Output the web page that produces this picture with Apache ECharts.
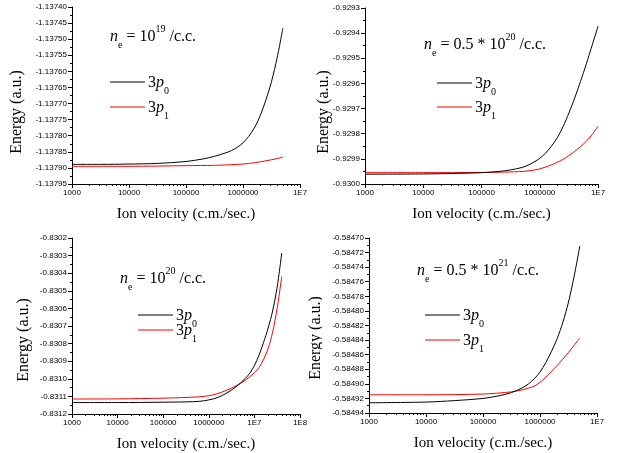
<!DOCTYPE html>
<html>
<head>
<meta charset="utf-8">
<script src="https://cdn.jsdelivr.net/npm/echarts@6/dist/echarts.min.js"></script>
<style>
  html, body { margin: 0; padding: 0; background: #fff; }
  #chart { width: 634px; height: 453px; }
</style>
</head>
<body>
<div id="chart"></div>
<script>
// Energy of the 3p0 / 3p1 levels against ion velocity, four electron densities.

// n_e = 1e19 /c.c.
const p1Vel0 = [1e3, 3.16e3, 1e4, 3.16e4, 1e5, 2e5, 3.16e5, 5.01e5, 6.31e5, 7.94e5, 1e6, 1.26e6, 1.58e6, 2e6, 2.51e6, 3.16e6, 3.98e6, 5e6];
const p1En0  = [-1.137889, -1.137889, -1.137888, -1.137886, -1.137880, -1.137872, -1.137864, -1.137853, -1.137846, -1.137836, -1.137822, -1.137802, -1.137776, -1.137738, -1.137690, -1.137632, -1.137557, -1.137466];
const p1Vel1 = [1e3, 1e4, 1e5, 3.16e5, 6.31e5, 1e6, 1.58e6, 2.51e6, 3.98e6, 5e6];
const p1En1  = [-1.137895, -1.137895, -1.137893, -1.137892, -1.137890, -1.137888, -1.137884, -1.137878, -1.137871, -1.137866];

// n_e = 0.5 * 1e20 /c.c.
const p2Vel0 = [1e3, 1e4, 3.16e4, 1e5, 2e5, 3.16e5, 5.01e5, 6.31e5, 7.94e5, 1e6, 1.26e6, 1.58e6, 2e6, 2.51e6, 3.16e6, 3.98e6, 5.01e6, 6.31e6, 7.94e6, 1e7];
const p2En0  = [-0.929961, -0.929960, -0.929958, -0.929955, -0.929950, -0.929944, -0.929934, -0.929925, -0.929913, -0.929898, -0.929877, -0.929850, -0.929816, -0.929772, -0.929718, -0.929658, -0.929592, -0.929522, -0.929448, -0.929373];
const p2Vel1 = [1e3, 1e4, 1e5, 3.16e5, 6.31e5, 1e6, 1.58e6, 2.51e6, 3.98e6, 6.31e6, 7.94e6, 1e7];
const p2En1  = [-0.929955, -0.929955, -0.929954, -0.929952, -0.929948, -0.929940, -0.929924, -0.929902, -0.929870, -0.929830, -0.929803, -0.929770];

// n_e = 1e20 /c.c.
const p3Vel0 = [1e3, 1e4, 1e5, 3.16e5, 6.31e5, 1e6, 1.58e6, 2.51e6, 3.98e6, 6.31e6, 7.94e6, 1e7, 1.26e7, 1.58e7, 2e7, 2.51e7, 3.16e7, 3.98e7];
const p3En0  = [-0.831135, -0.831135, -0.831133, -0.831131, -0.831128, -0.831120, -0.831106, -0.831080, -0.831045, -0.830998, -0.830968, -0.830925, -0.830866, -0.830795, -0.830712, -0.830615, -0.830478, -0.830285];
const p3Vel1 = [1e3, 1e4, 1e5, 3.16e5, 6.31e5, 1e6, 1.58e6, 2.51e6, 3.98e6, 6.31e6, 1e7, 1.26e7, 1.58e7, 2e7, 2.51e7, 3.16e7, 3.98e7];
const p3En1  = [-0.831115, -0.831114, -0.831110, -0.831106, -0.831102, -0.831096, -0.831084, -0.831064, -0.831040, -0.831008, -0.830966, -0.830936, -0.830892, -0.830828, -0.830735, -0.830598, -0.830418];

// n_e = 0.5 * 1e21 /c.c.
const p4Vel0 = [1e3, 1e4, 3.16e4, 1e5, 2e5, 3.16e5, 5.01e5, 6.31e5, 7.94e5, 1e6, 1.26e6, 1.58e6, 2e6, 2.51e6, 3.16e6, 3.98e6, 5e6];
const p4En0  = [-0.584926, -0.584925, -0.584923, -0.584920, -0.584916, -0.584912, -0.584905, -0.584900, -0.584893, -0.584884, -0.584871, -0.584856, -0.584838, -0.584816, -0.584788, -0.584752, -0.584711];
const p4Vel1 = [1e3, 1e4, 1e5, 3.16e5, 5.01e5, 7.94e5, 1e6, 1.26e6, 1.58e6, 2e6, 2.51e6, 3.16e6, 3.98e6, 5e6];
const p4En1  = [-0.584915, -0.584915, -0.584914, -0.584911, -0.584908, -0.584903, -0.584898, -0.584891, -0.584883, -0.584875, -0.584866, -0.584857, -0.584847, -0.584837];

// Tick labels
const xTicksTo1E7 = [1e3, 1e4, 1e5, 1e6, 1e7];
const xTicksTo1E8 = [1e3, 1e4, 1e5, 1e6, 1e7, 1e8];
const densityTexts = [
  { pre: '',        exp: '19' },
  { pre: '0.5 * ',  exp: '20' },
  { pre: '',        exp: '20' },
  { pre: '0.5 * ',  exp: '21' }
];
const levelNames = ['0', '1'];
const xTitle = 'Ion velocity (c.m./sec.)';
const yTitle = 'Energy (a.u.)';

const SANS = '"Liberation Sans", Arial, sans-serif';
const SERIF = '"Liberation Serif", "Times New Roman", serif';
const BLACK = '#000000';
const RED = '#ff0000';

const panels = [
  { grid: { left: 72, top: 7, width: 228, height: 177 }, xTicks: xTicksTo1E7,
    yMin: -1.13795, yMax: -1.13740, yStep: 0.00005, digits: 5,
    lines: [[p1Vel0, p1En0], [p1Vel1, p1En1]],
    note: { x: 110, y: 37 }, key: { x: 110, y0: 82, y1: 107 }, yTitle: { x: 17, y: 112 } },
  { grid: { left: 365, top: 8, width: 233, height: 176 }, xTicks: xTicksTo1E7,
    yMin: -0.9300, yMax: -0.9293, yStep: 0.0001, digits: 4,
    lines: [[p2Vel0, p2En0], [p2Vel1, p2En1]],
    note: { x: 424, y: 45 }, key: { x: 437, y0: 83, y1: 107 }, yTitle: { x: 324, y: 112 } },
  { grid: { left: 72, top: 238, width: 228, height: 176 }, xTicks: xTicksTo1E8,
    yMin: -0.8312, yMax: -0.8302, yStep: 0.0001, digits: 4,
    lines: [[p3Vel0, p3En0], [p3Vel1, p3En1]],
    note: { x: 120, y: 279 }, key: { x: 138, y0: 315, y1: 330 }, yTitle: { x: 24, y: 340 } },
  { grid: { left: 369, top: 238, width: 228, height: 175 }, xTicks: xTicksTo1E7,
    yMin: -0.58494, yMax: -0.58470, yStep: 0.00002, digits: 5,
    lines: [[p4Vel0, p4En0], [p4Vel1, p4En1]],
    note: { x: 417, y: 271 }, key: { x: 425, y0: 315, y1: 340 }, yTitle: { x: 316, y: 338 } }
];

function minorDecadeTicks(majors) {
  const out = [];
  for (let k = 0; k < majors.length - 1; k++) {
    for (let m = 2; m <= 9; m++) out.push(m * majors[k]);
  }
  return out;
}

function velocityLabel(v) {
  const e = Math.round(Math.log10(v));
  return e >= 7 ? '1E' + e : String(Math.round(v));
}

const richStyles = {
  t: { fontFamily: SERIF, fontSize: 16, lineHeight: 26, fill: BLACK },
  i: { fontFamily: SERIF, fontSize: 16, lineHeight: 26, fontStyle: 'italic', fill: BLACK },
  s: { fontFamily: SERIF, fontSize: 10, lineHeight: 10, verticalAlign: 'bottom', fill: BLACK },
  p: { fontFamily: SERIF, fontSize: 10, lineHeight: 12, verticalAlign: 'top', fill: BLACK }
};

const grids = [], xAxes = [], yAxes = [], series = [], graphics = [];
const axisLineStyle = { color: BLACK, width: 1 };

panels.forEach((pn, i) => {
  grids.push(Object.assign({ outerBoundsMode: 'none', containLabel: false }, pn.grid));
  const xMax = pn.xTicks[pn.xTicks.length - 1];

  // main log axis with decade ticks and labels
  xAxes.push({
    type: 'log', logBase: 10, gridIndex: i, position: 'bottom',
    min: 1e3, max: xMax,
    axisLine: { show: true, onZero: false, lineStyle: axisLineStyle },
    axisTick: { show: true, inside: false, length: 4, customValues: pn.xTicks, lineStyle: axisLineStyle },
    axisLabel: { show: true, customValues: pn.xTicks, formatter: velocityLabel, margin: 5,
                 fontFamily: SANS, fontSize: 8, color: BLACK },
    splitLine: { show: false },
    name: xTitle, nameLocation: 'middle', nameGap: 23,
    nameTextStyle: { fontFamily: SERIF, fontSize: 15, color: BLACK }
  });
  // companion axis carrying the 2..9 minor ticks of each decade
  xAxes.push({
    type: 'log', logBase: 10, gridIndex: i, position: 'bottom',
    min: 1e3, max: xMax,
    axisLine: { show: false },
    axisTick: { show: true, inside: false, length: 2, customValues: minorDecadeTicks(pn.xTicks), lineStyle: axisLineStyle },
    axisLabel: { show: false },
    splitLine: { show: false }
  });

  yAxes.push({
    type: 'value', gridIndex: i, position: 'left',
    min: pn.yMin, max: pn.yMax, interval: pn.yStep,
    axisLine: { show: true, onZero: false, lineStyle: axisLineStyle },
    axisTick: { show: true, inside: false, length: 4, lineStyle: axisLineStyle },
    minorTick: { show: true, splitNumber: 2, length: 2, lineStyle: axisLineStyle },
    axisLabel: { formatter: v => v.toFixed(pn.digits), margin: 5, fontFamily: SANS, fontSize: 8, color: BLACK },
    splitLine: { show: false },
    minorSplitLine: { show: false }
  });

  pn.lines.forEach(([vel, en], k) => {
    series.push({
      type: 'line', name: '3p' + levelNames[k] + ' #' + (i + 1),
      xAxisIndex: 2 * i, yAxisIndex: i,
      data: vel.map((v, j) => [v, en[j]]),
      showSymbol: false, symbol: 'none',
      smooth: 0.3,
      lineStyle: { color: k === 0 ? BLACK : RED, width: 1 },
      z: k === 0 ? 3 : 2
    });
  });

  // density annotation
  const d = densityTexts[i];
  graphics.push({
    type: 'text', x: pn.note.x, y: pn.note.y, z: 5,
    style: {
      text: '{i|n}{s|e}{t| = ' + d.pre + '10}{p|' + d.exp + '}{t| /c.c.}',
      rich: richStyles, textAlign: 'left', textVerticalAlign: 'middle',
      align: 'left', verticalAlign: 'middle'
    }
  });

  // level key
  [pn.key.y0, pn.key.y1].forEach((ky, k) => {
    graphics.push({
      type: 'line', z: 5,
      shape: { x1: pn.key.x, y1: ky, x2: pn.key.x + 35, y2: ky },
      style: { stroke: k === 0 ? BLACK : RED, lineWidth: 1 }
    });
    graphics.push({
      type: 'text', x: pn.key.x + 38, y: ky + 1, z: 5,
      style: {
        text: '{t|3}{i|p}{s|' + levelNames[k] + '}',
        rich: richStyles, textAlign: 'left', textVerticalAlign: 'middle',
        align: 'left', verticalAlign: 'middle'
      }
    });
  });

  // rotated y-axis title
  graphics.push({
    type: 'text', x: pn.yTitle.x, y: pn.yTitle.y, rotation: Math.PI / 2, z: 4,
    style: {
      text: yTitle, font: '16px ' + SERIF, fill: BLACK,
      textAlign: 'center', textVerticalAlign: 'middle', align: 'center', verticalAlign: 'middle'
    }
  });
});

// the lower-right panel sits over part of its own y-axis title
graphics.push({
  type: 'rect', z: 6,
  shape: { x: 322, y: 280, width: 7, height: 120 },
  style: { fill: '#ffffff' }
});

const chart = echarts.init(document.getElementById('chart'), null, { renderer: 'canvas' });
chart.setOption({
  backgroundColor: '#ffffff',
  animation: false,
  grid: grids,
  xAxis: xAxes,
  yAxis: yAxes,
  series: series,
  graphic: { elements: graphics }
});
</script>
</body>
</html>
